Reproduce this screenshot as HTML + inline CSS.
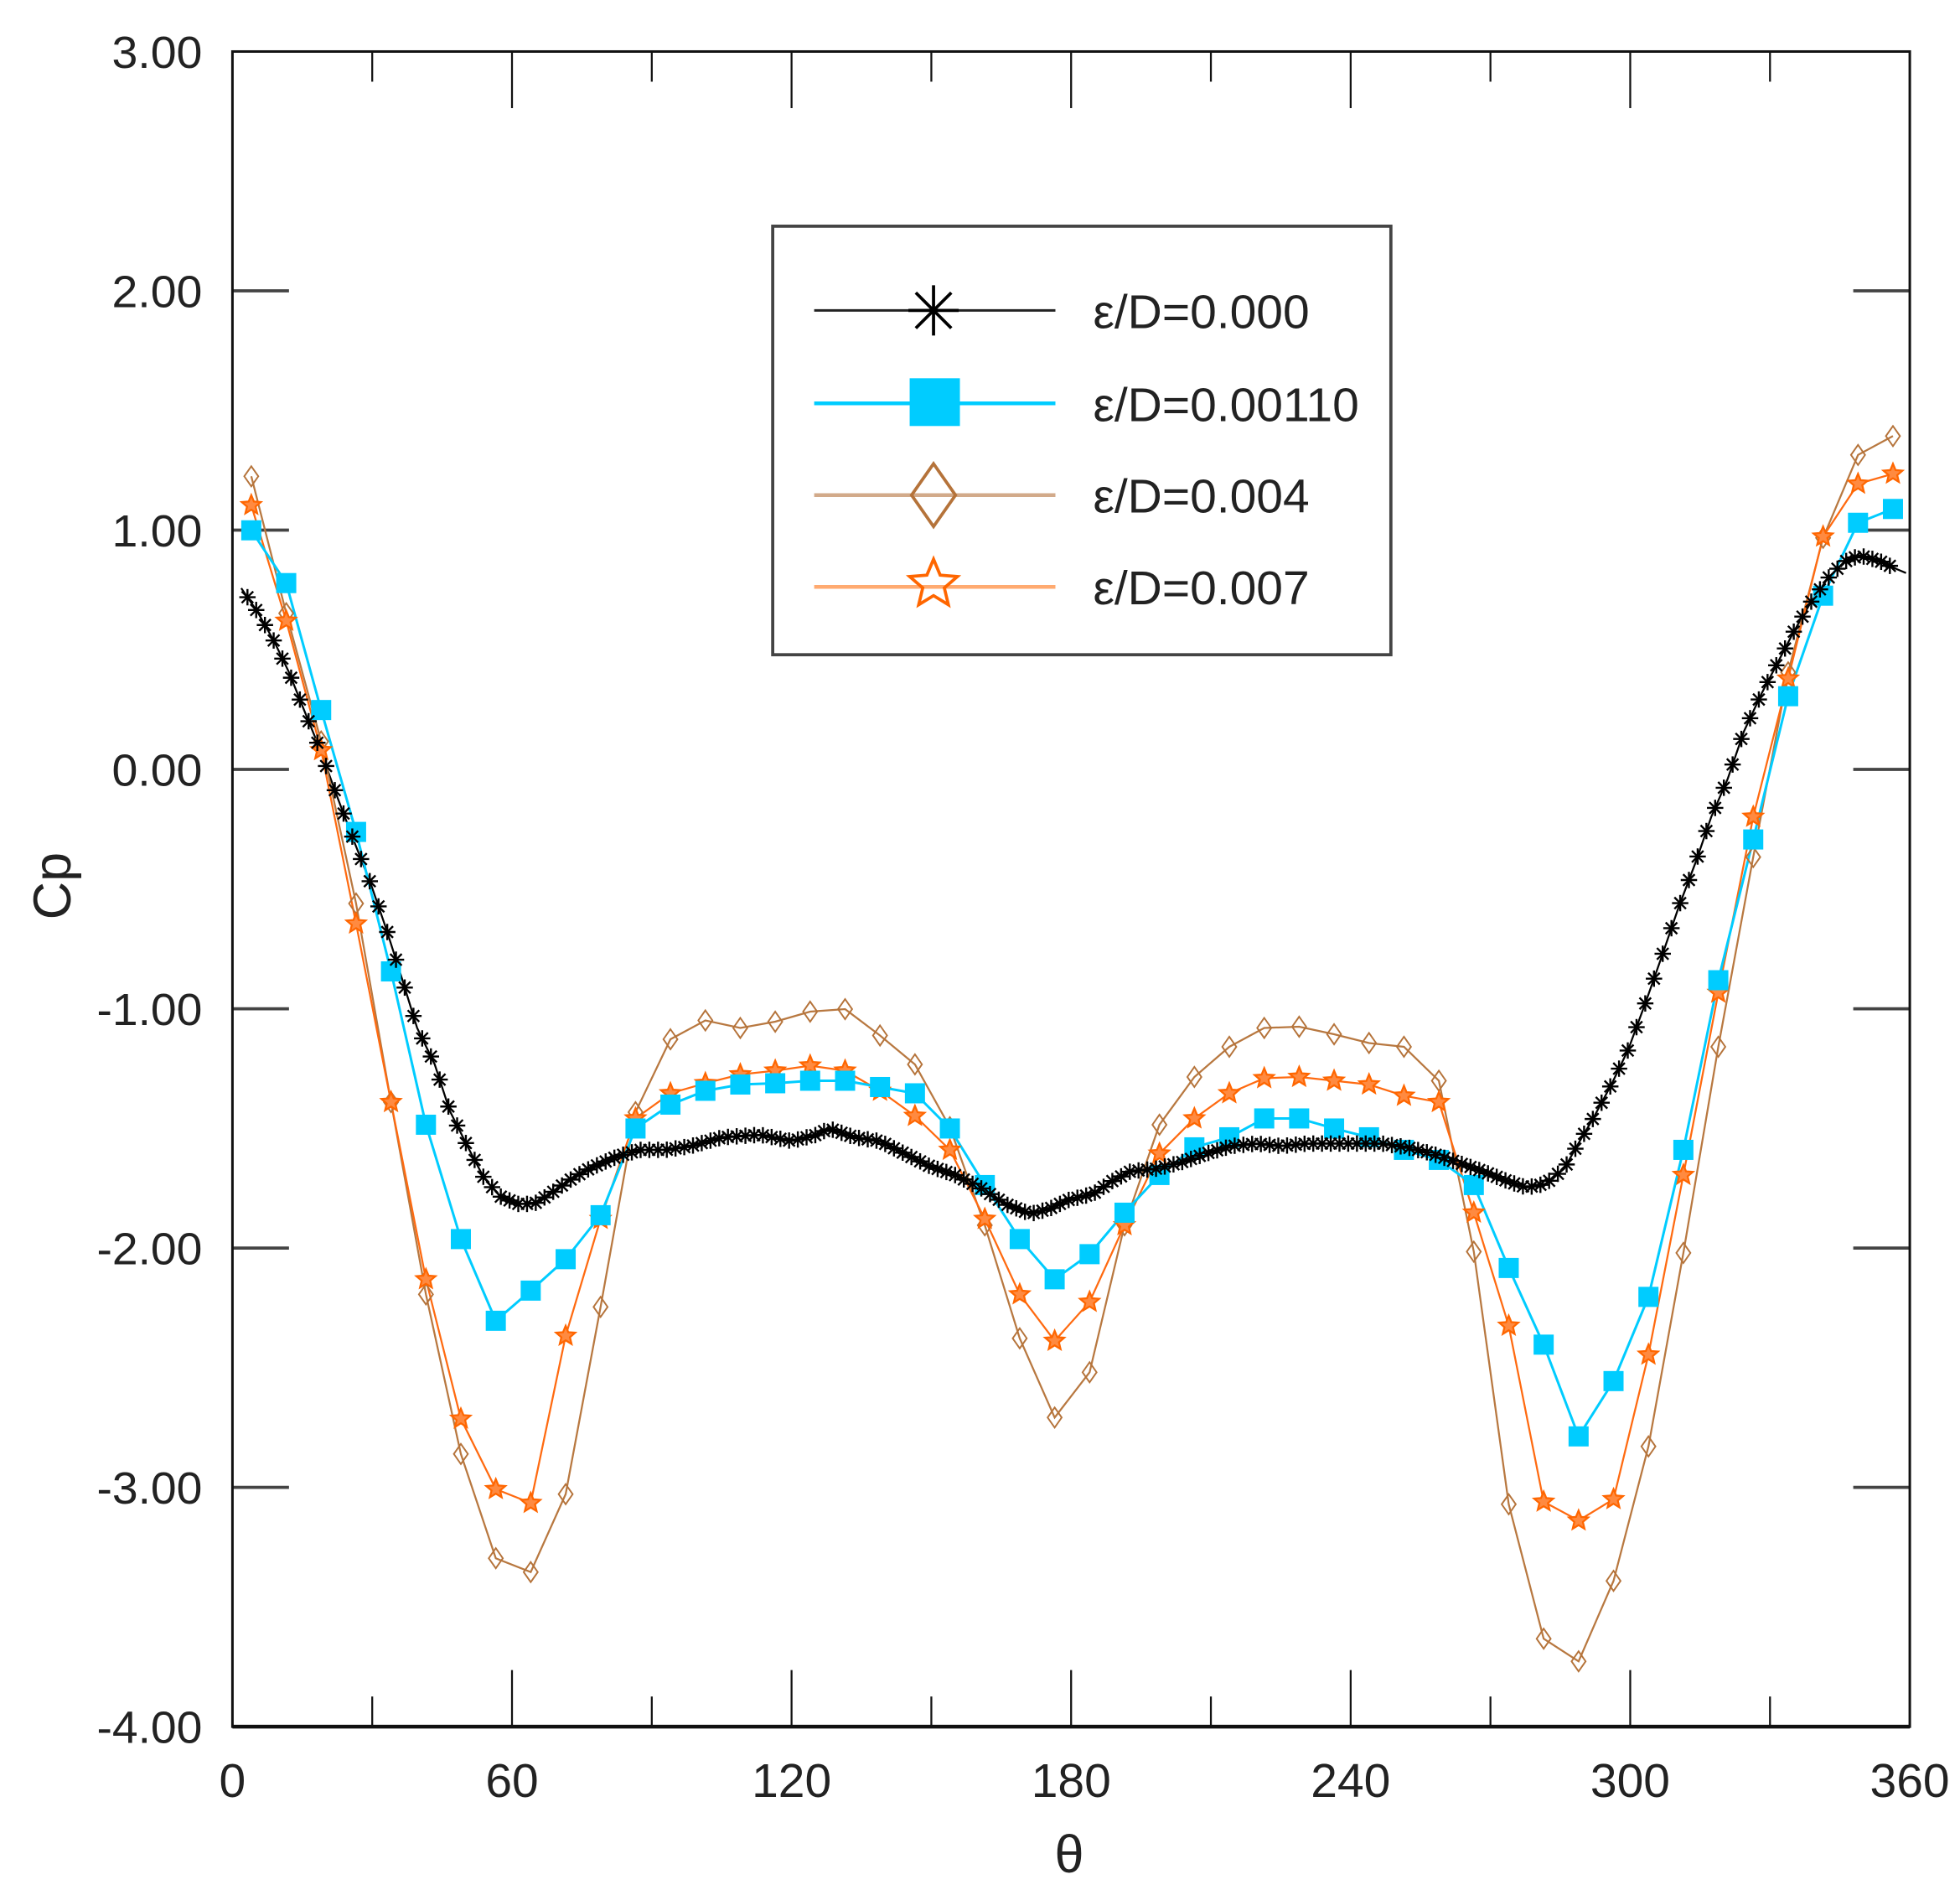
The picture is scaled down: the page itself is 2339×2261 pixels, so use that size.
<!DOCTYPE html>
<html><head><meta charset="utf-8"><style>
html,body{margin:0;padding:0;background:#fff;}
svg{display:block;}
text{font-family:"Liberation Sans",Arial,sans-serif;}
</style></head><body>
<svg id="s" xmlns="http://www.w3.org/2000/svg" width="2339" height="2261" viewBox="0 0 1559.96 1507.95">
<rect width="1560" height="1508" fill="#fff"/>
<g id="axes"></g>
<g id="series"></g>
<g id="legend"></g>
</svg>
<script>
var NS="http://www.w3.org/2000/svg";
function el(p,t,a,txt){var e=document.createElementNS(NS,t);for(var k in a)e.setAttribute(k,a[k]);if(txt!=null)e.textContent=txt;p.appendChild(e);return e;}
var L=185,R=1520,T=41,B=1374;
var ax=document.getElementById('axes');
var X=function(t){return L+(R-L)*t/360;};
var Y=function(v){return T+(3-v)*(B-T)/7;};
for(var v=-3;v<=2;v++){var y=Y(v);el(ax,'line',{x1:L,y1:y,x2:L+45,y2:y,stroke:'#444','stroke-width':2.5});el(ax,'line',{x1:R-45,y1:y,x2:R,y2:y,stroke:'#444','stroke-width':2.5});}
for(var t=30;t<360;t+=30){var x=X(t);var len=(t%60==0)?45:24;el(ax,'line',{x1:x,y1:B,x2:x,y2:B-len,stroke:'#111','stroke-width':1.5});el(ax,'line',{x1:x,y1:T,x2:x,y2:T+len,stroke:'#111','stroke-width':1.5});}
el(ax,'rect',{x:L,y:T,width:R-L,height:B-T,fill:'none',stroke:'#111','stroke-width':2});
el(ax,'line',{x1:L,y1:B,x2:R,y2:B,stroke:'#111','stroke-width':3});
for(var v=3;v>=-4;v--){el(ax,'text',{x:161,y:Y(v)+13,'font-size':36,'text-anchor':'end',fill:'#222',textLength:v<0?84:72,lengthAdjust:'spacingAndGlyphs'},v.toFixed(2));}
for(var t=0;t<=360;t+=60){el(ax,'text',{x:X(t),y:1430,'font-size':38,'text-anchor':'middle',fill:'#222'},String(t));}
el(ax,'text',{x:851,y:1490,'font-size':42,'text-anchor':'middle',fill:'#222'},'θ');
el(ax,'text',{x:0,y:0,'font-size':42,'text-anchor':'middle',fill:'#222',transform:'translate(56,705) rotate(-90)'},'Cp');
var sg=document.getElementById('series');
function pts(a){var r=[];for(var i=0;i<a.length;i+=2)r.push([a[i],a[i+1]]);return r;}
var xs=[];for(var i=0;i<48;i++)xs.push(200+i*27.8);
function mk(ys){return ys.map(function(y,i){return [xs[i],y];});}
var blue=mk([422,464,565,662,773,895,986,1051,1027,1002,967,898,879,868,863,862,860,860,865,870,898,943,986,1018,998,965,935,913,905,890,890,898,905,915,923,943,1009,1070,1143,1099,1032,915,780,668,554,474,416,405]);
var orange=mk([402,494,597,735,877,1018,1129,1185,1196,1063,970,890,870,862,855,852,848,852,868,888,915,970,1030,1067,1036,975,918,890,870,858,857,860,863,872,877,965,1055,1195,1210,1193,1078,935,790,650,540,427,385,377]);
var brown=mk([379,488,590,719,877,1030,1157,1240,1251,1189,1040,885,827,812,818,813,805,803,824,847,897,975,1065,1128,1092,975,895,857,833,818,817,823,830,833,860,996,1197,1304,1322,1258,1151,997,833,682,535,428,362,347]);
var blk=pts([192,468,205,487,218,510,230,535,242,565,255,597,268,633,282,670,295,703,308,741,320,779,332,818,346,847,358,884,372,912,385,937,398,952,412,958,425,958,438,950,452,940,465,932,478,926,492,920,510,915,530,915,550,912,575,905,605,903,630,908,650,903,660,898,680,905,700,908,720,918,740,928,760,935,780,945,800,958,820,966,835,962,850,955,870,950,885,940,900,932,920,930,940,925,960,918,980,912,1000,910,1020,912,1040,910,1060,910,1080,910,1100,910,1120,913,1140,918,1160,925,1180,932,1200,940,1215,945,1230,942,1245,930,1255,912,1268,890,1283,862,1296,835,1310,797,1323,760,1336,722,1350,685,1362,650,1375,620,1388,582,1402,552,1415,527,1428,502,1442,478,1455,460,1468,447,1480,442,1495,446,1510,453,1517,456]);
function poly(p,c,w){el(sg,'polyline',{points:p.map(function(q){return q.join(',');}).join(' '),fill:'none',stroke:c,'stroke-width':w});}
function asterisk(g,x,y,r,w){for(var k=0;k<4;k++){var a=k*Math.PI/4;el(g,'line',{x1:x-r*Math.cos(a),y1:y-r*Math.sin(a),x2:x+r*Math.cos(a),y2:y+r*Math.sin(a),stroke:'#000','stroke-width':w});}}
function star(g,x,y,r,c,w,fill){var s=[];for(var k=0;k<10;k++){var rr=k%2?r*0.45:r;var a=-Math.PI/2+k*Math.PI/5;s.push((x+rr*Math.cos(a)).toFixed(1)+','+(y+rr*Math.sin(a)).toFixed(1));}el(g,'polygon',{points:s.join(' '),fill:fill,stroke:c,'stroke-width':w});}
function diamond(g,x,y,r,c,w){el(g,'polygon',{points:[x,y-r,x+r*0.7,y,x,y+r,x-r*0.7,y].join(' '),fill:'none',stroke:c,'stroke-width':w});}
poly(blk,'#000',1.5);
poly(brown,'#B87840',1.5);
poly(orange,'#FF6A10',1.5);
poly(blue,'#00CCFF',2);
brown.forEach(function(p){diamond(sg,p[0],p[1],8,'#B5733A',1.3);});
orange.forEach(function(p){star(sg,p[0],p[1],8,'#FF6600',1.5,'#FF8A40');});
blue.forEach(function(p){el(sg,'rect',{x:p[0]-8,y:p[1]-8,width:16,height:16,fill:'#00CCFF'});});
for(var t=0;t<=356;t+=1.875){var x=X(t)+5;if(x>1518)break;var y=null;for(var i=0;i<blk.length-1;i++){if(x>=blk[i][0]&&x<=blk[i+1][0]){var f=(x-blk[i][0])/(blk[i+1][0]-blk[i][0]);y=blk[i][1]+f*(blk[i+1][1]-blk[i][1]);break;}}if(y!=null)asterisk(sg,x,y,6.5,1.6);}
var lg=document.getElementById('legend');
el(lg,'rect',{x:615,y:180,width:492,height:341,fill:'#fff',stroke:'#444','stroke-width':2.5});
var rows=[[247,'#222','ε/D=0.000'],[321,'#00CCFF','ε/D=0.00110'],[394,'#D2AA8A','ε/D=0.004'],[467,'#FFAA70','ε/D=0.007']];
rows.forEach(function(r,i){el(lg,'line',{x1:648,y1:r[0],x2:840,y2:r[0],stroke:r[1],'stroke-width':i==0?2:3});
el(lg,'text',{x:870,y:r[0]+14,'font-size':38,fill:'#222'},r[2]);});
asterisk(lg,743,247,20,2.5);
el(lg,'rect',{x:724,y:301,width:40,height:38,fill:'#00CCFF'});
diamond(lg,743,394,25,'#B5733A',2.5);
star(lg,743,465,20,'#FF6600',2.5,'none');
</script>
</body></html>
